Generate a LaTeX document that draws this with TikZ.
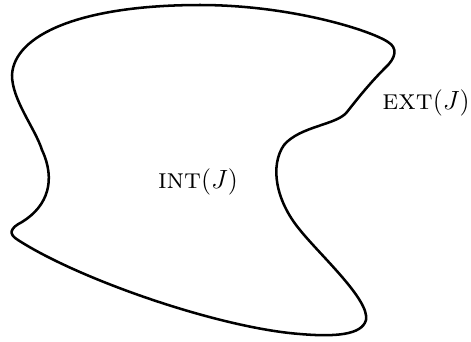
\documentclass[tikz,border=0pt]{standalone}
\usepackage{amssymb,amsmath}
\usepackage{tikz}
\usetikzlibrary{positioning}

\begin{document}
\begin{tikzpicture}[x=0.016cm, y=-0.016cm,
    region/.style={font=\fontsize{13}{15}\selectfont, inner sep=0pt},
    jordan/.style={line width=1.15pt, line join=round}]
\useasboundingbox (0,0) rectangle (471,341);

% the closed curve J
\draw[jordan] (12,75) .. controls (14,35) and (80,5) .. (200,5)
    .. controls (290,5) and (370,30) .. (388,42)
    .. controls (398,48) and (396,58) .. (385,68)
    .. controls (370,83) and (358,98) .. (347,112)
    .. controls (337,125) and (300,126) .. (284,145)
    .. controls (270,165) and (275,200) .. (300,230)
    .. controls (320,255) and (370,300) .. (366,320)
    .. controls (362,335) and (335,337) .. (300,334)
    .. controls (220,328) and (80,280) .. (18,240)
    .. controls (8,234) and (10,228) .. (22,222)
    .. controls (48,206) and (56,180) .. (42,150)
    .. controls (35,128) and (12,100) .. (12,75) -- cycle;

\node[region] (int) at (198,182) {\textsc{int}$(J)$};
\node[region, anchor=east] (ext) at (470,103) {\textsc{ext}$(J)$};
\end{tikzpicture}
\end{document}
